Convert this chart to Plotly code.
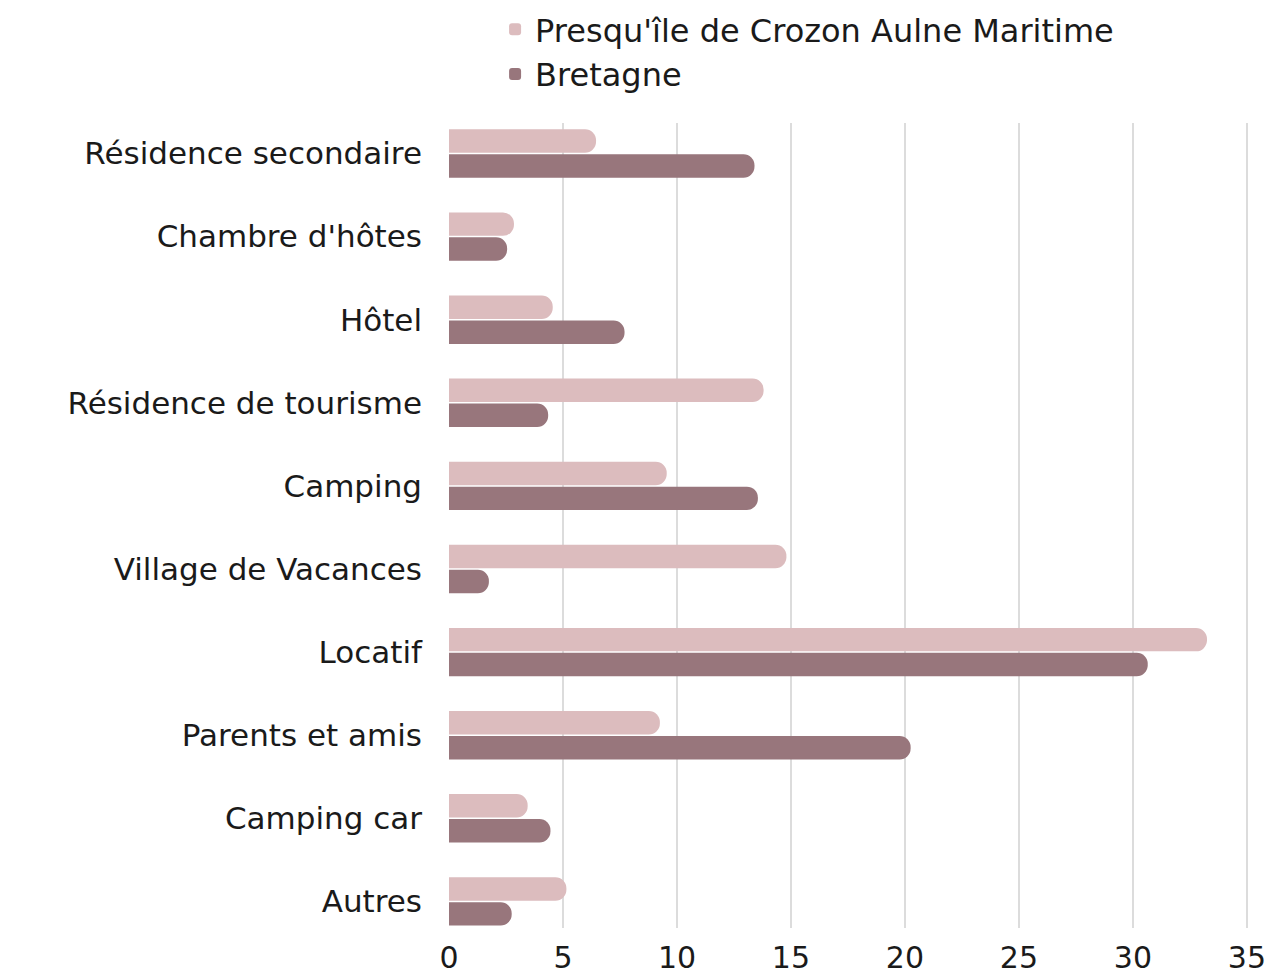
import plotly.graph_objects as go

categories = ["Résidence secondaire", "Chambre d'hôtes", "Hôtel", "Résidence de tourisme",
              "Camping", "Village de Vacances", "Locatif", "Parents et amis", "Camping car", "Autres"]
crozon = [6.45, 2.85, 4.55, 13.8, 9.55, 14.8, 33.25, 9.25, 3.45, 5.15]
bretagne = [13.4, 2.55, 7.7, 4.35, 13.55, 1.75, 30.65, 20.25, 4.45, 2.75]
series_names = ["Presqu'île de Crozon Aulne Maritime", "Bretagne"]
tick_vals = [0, 5, 10, 15, 20, 25, 30, 35]

FONT = "DejaVu Sans"
fig = go.Figure()
fig.add_trace(go.Bar(y=categories, x=crozon, name=series_names[0], orientation="h",
                     marker=dict(color="#dcbcbe", cornerradius="50%", line=dict(width=0))))
fig.add_trace(go.Bar(y=categories, x=bretagne, name=series_names[1], orientation="h",
                     marker=dict(color="#98767c", cornerradius="50%", line=dict(width=0))))

fig.update_layout(
    width=1276, height=974,
    paper_bgcolor="white", plot_bgcolor="white",
    margin=dict(l=449, r=25, t=123, b=46, autoexpand=False),
    barmode="group", bargap=0.4, bargroupgap=0.06,
    font=dict(family=FONT, size=31, color="#1a1a1a"),
    showlegend=True,
    legend=dict(orientation="v", x=0.388, y=1.0 - 2 / 974, xanchor="left", yanchor="top",
                xref="container", yref="container",
                traceorder="normal", font=dict(size=32, color="#1a1a1a"),
                itemwidth=30, tracegroupgap=0, bgcolor="rgba(0,0,0,0)"),
    xaxis=dict(range=[0, 35.18], tickvals=tick_vals, showgrid=True, gridcolor="#dcdcdc",
               gridwidth=1.5, zeroline=False, showline=False, ticks="",
               tickfont=dict(size=30), ticklabelstandoff=9),
    yaxis=dict(range=[9.32, -0.367], showgrid=False, zeroline=False, showline=False,
               ticks="", tickfont=dict(size=31), ticklabelstandoff=26),
)
fig.write_html("out.html", config={"displayModeBar": False},
               post_script="document.body.style.margin='0';document.body.style.overflow='hidden';")
